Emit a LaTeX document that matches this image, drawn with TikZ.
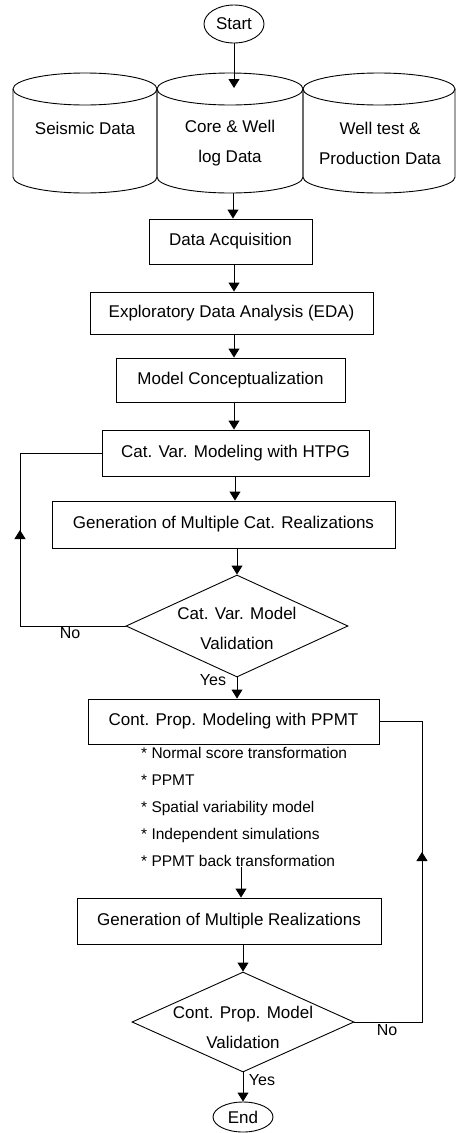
\documentclass[tikz,border=0pt]{standalone}
\usepackage{fontspec}
\setmainfont{Liberation Sans}
\usetikzlibrary{shapes.geometric,arrows.meta,calc}

\begin{document}
\begin{tikzpicture}[x=1pt,y=1pt,
  every node/.style={font=\fontsize{17}{30}\selectfont},
  line/.style={line width=0.9pt},
  arr/.style={line, -{Triangle[length=9pt,width=11pt]}},
  box/.style={draw, line width=0.9pt, rectangle, inner sep=0pt},
  term/.style={draw, line width=0.9pt, ellipse, inner sep=0pt},
  decision/.style={draw, line width=0.9pt, diamond, inner sep=0pt},
  dtext/.style={align=center, inner sep=0pt},
  lbl/.style={font=\fontsize{16}{19}\selectfont, inner sep=0pt},
  drumtext/.style={align=center, inner sep=0pt},
]
\useasboundingbox (0,0) rectangle (456,-1133);

% data stores (three cylinders side by side)
\foreach \l/\r in {13/157, 157/303, 303/455}{
  \pgfmathsetmacro\cx{(\l+\r)/2}
  \pgfmathsetmacro\rx{(\r-\l)/2}
  \draw[line] (\l,-89) -- (\l,-177) arc[start angle=180, end angle=360, x radius=\rx, y radius=16] -- (\r,-89);
  \draw[line] (\cx,-89) ellipse[x radius=\rx, y radius=16];
}
\node[drumtext] (seis) at (85,-128) {Seismic Data};
\node[drumtext] (core) at (230,-143) {Core \& Well\\log Data};
\node[drumtext] (wtest) at (380,-143) {Well test \&\\Production Data};
\coordinate (coretop) at (233,-88);
\coordinate (corebot) at (233,-193);

% process chain
\node[term, minimum width=60pt, minimum height=38pt] (start) at (234,-24) {Start};
\node[box, minimum width=163pt, minimum height=45pt] (acq) at (230.5,-241.5) {Data Acquisition};
\node[box, minimum width=283pt, minimum height=42pt] (eda) at (231.5,-313) {Exploratory Data Analysis (EDA)};
\node[box, minimum width=229pt, minimum height=44pt] (concept) at (230.5,-380) {Model Conceptualization};
\node[box, minimum width=267pt, minimum height=46pt] (catmod) at (235.5,-453) {Cat. Var. Modeling with HTPG};
\node[box, minimum width=343pt, minimum height=47pt] (catgen) at (223.5,-524.5) {Generation of Multiple Cat. Realizations};
\node[decision, minimum width=222pt, minimum height=102pt] (catval) at (237,-626) {};
\node[dtext] (catvaltext) at (237,-628) {Cat. Var. Model\\Validation};
\node[box, minimum width=291pt, minimum height=45pt] (contmod) at (233.5,-721.5) {Cont. Prop. Modeling with PPMT};
\node[anchor=north west, align=left, inner sep=0pt, font=\fontsize{15.5}{27}\selectfont] (steps) at (141,-747)
  {* Normal score transformation\\
   * PPMT\\
   * Spatial variability model\\
   * Independent simulations\\
   * PPMT back transformation};
\node[box, minimum width=304pt, minimum height=46pt] (realgen) at (229,-921) {Generation of Multiple Realizations};
\node[decision, minimum width=222pt, minimum height=100pt] (contval) at (243,-1022) {};
\node[dtext] (contvaltext) at (243,-1027) {Cont. Prop. Model\\Validation};
\node[term, minimum width=60pt, minimum height=30pt] (end) at (243,-1117) {End};

% vertical spine
\coordinate (sp) at (234,0);
\coordinate (stepx) at (241,0);
\draw[arr] (start.south) -- (start.south |- coretop);
\draw[arr] (corebot) -- (corebot |- acq.north);
\draw[arr] (acq.south -| sp) -- (eda.north -| sp);
\draw[arr] (eda.south -| sp) -- (concept.north -| sp);
\draw[arr] (concept.south -| sp) -- (catmod.north -| sp);
\draw[arr] ([xshift=1pt]catmod.south -| sp) -- ([xshift=1pt]catgen.north -| sp);
\draw[arr] (catgen.south -| catval.north) -- (catval.north);
\draw[arr] (catval.south) -- (catval.south |- contmod.north);
\draw[arr] (steps.south -| stepx) -- (realgen.north -| stepx);
\draw[arr] (realgen.south -| contval.north) -- (contval.north);
\draw[arr] (contval.south) -- (end.north);

% feedback loops
\coordinate (nl) at (20,0);
\coordinate (nr) at (422,0);
\draw[line] (catval.west) -- (catval.west -| nl) |- (catmod.west);
\draw[arr] (catval.west -| nl) -- ++(0,96);
\draw[line] (contval.east) -- (contval.east -| nr) |- (contmod.east);
\draw[arr] (contval.east -| nr) -- ++(0,170);

% branch labels
\node[lbl] (no1) at (70,-633) {No};
\node[lbl] (yes1) at (213,-680) {Yes};
\node[lbl] (no2) at (387,-1030) {No};
\node[lbl] (yes2) at (262,-1080) {Yes};
\end{tikzpicture}
\end{document}
